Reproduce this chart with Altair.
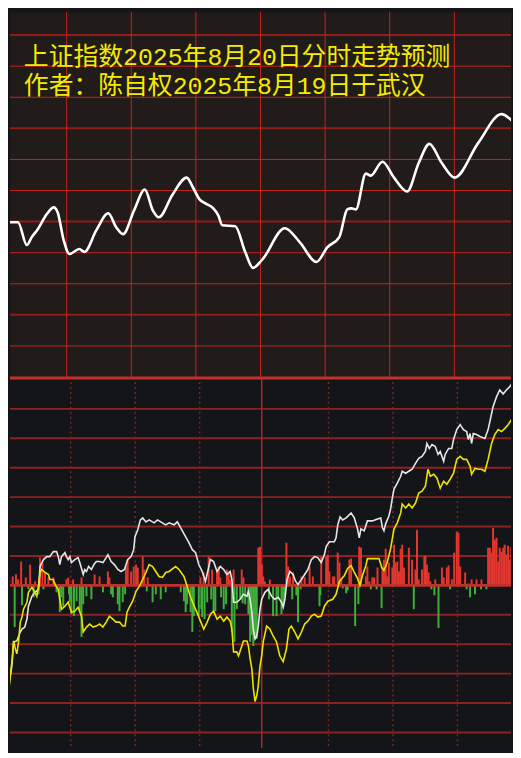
import altair as alt
import pandas as pd

TITLE1 = "上证指数2025年8月20日分时走势预测"
TITLE2 = "作者：陈自权2025年8月19日于武汉"

# ---- top panel: smoothed forecast curve (minute of session, level) ----
forecast = [
    (0.0, 176), (1.4, 164), (3.2, 156), (7.4, 156), (11.5, 133), (13.8, 141),
    (16.6, 149), (20.7, 164), (24.0, 171), (25.8, 166), (28.6, 138), (31.3, 124),
    (35.9, 129), (38.2, 126), (43.8, 148), (49.3, 165), (53.0, 151), (56.2, 144),
    (61.3, 168), (66.3, 189), (70.0, 168), (72.8, 161), (79.2, 184), (85.7, 201),
    (88.9, 190), (91.7, 179), (94.4, 175), (98.1, 170), (100.4, 163), (102.3, 153),
    (108.3, 152), (112.9, 126), (116.5, 110), (120.7, 118), (131.3, 150), (138.2, 136),
    (146.0, 116), (151.1, 131), (156.6, 141), (160.3, 169), (162.2, 170), (164.3, 169),
    (168.9, 205), (171.2, 203), (176.6, 217), (182.0, 201), (188.1, 187), (193.5, 216),
    (198.4, 235), (204.1, 216), (210.1, 201), (221.1, 236), (231.9, 265), (235.9, 260),
    (240.0, 250),
]

# ---- bottom panel: price (white) and average (yellow), relative to prior close ----
price = [
    (-0.9, -54), (0.3, -97), (0.8, -107), (2.6, -81), (3.4, -57), (4.9, -56), (6.5, -47),
    (7.3, -44), (8.6, -42), (9.6, -34), (10.3, -21), (11.9, -11), (13.3, -7), (15.0, -4),
    (15.7, 19), (17.3, 26), (18.8, 29), (20.2, 29), (21.9, 34), (23.4, 34), (24.2, 29),
    (24.9, 21), (25.7, 29), (26.5, 31), (27.3, 33), (28.0, 29), (28.8, 26), (29.6, 29),
    (30.3, 23), (31.9, 26), (33.4, 28), (34.2, 23), (35.8, 11), (36.5, 16), (37.3, 14),
    (38.3, 19), (39.6, 16), (40.8, 21), (41.9, 24), (43.4, 24), (45.0, 23), (46.5, 28),
    (47.3, 31), (48.8, 24), (50.3, 21), (51.9, 16), (53.4, 14), (55.0, 16), (56.5, 26),
    (58.1, 29), (59.3, 36), (59.9, 49), (61.2, 56), (62.4, 66), (63.5, 68), (65.0, 64),
    (66.5, 66), (68.8, 63), (70.4, 66), (71.9, 64), (74.2, 61), (75.8, 63), (78.1, 61),
    (79.6, 64), (81.2, 58), (83.5, 49), (85.0, 43), (86.6, 36), (88.1, 33), (89.6, 21),
    (91.2, 14), (92.7, 4), (94.2, 18), (95.0, 26), (96.5, 24), (98.1, 14), (99.6, 19),
    (101.2, 16), (102.7, 11), (104.2, 14), (105.0, 6), (105.8, -17), (107.3, -17),
    (108.9, -14), (110.4, -9), (112.0, -11), (112.7, -6), (113.5, -14), (114.3, -27),
    (115.0, -44), (115.8, -54), (116.6, -51), (117.3, -41), (118.1, -24), (118.9, -14),
    (120.4, -7), (121.9, -4), (123.5, -11), (125.0, -14), (126.6, -12), (128.1, -17),
    (128.9, -22), (129.7, -14), (130.7, 6), (132.0, 14), (133.5, 11), (134.7, 4),
    (135.8, 1), (137.4, 6), (138.9, 11), (140.4, 16), (142.0, 26), (143.5, 29),
    (145.0, 28), (146.6, 23), (148.1, 31), (148.9, 39), (150.4, 44), (152.7, 44),
    (153.5, 48), (154.3, 61), (155.4, 69), (156.6, 66), (158.2, 68), (160.5, 73),
    (162.0, 68), (163.5, 57), (164.3, 48), (165.1, 57), (166.6, 55), (168.1, 65),
    (170.4, 65), (172.8, 67), (174.3, 68), (175.1, 58), (175.8, 55), (176.6, 62),
    (178.1, 70), (178.9, 77), (179.7, 88), (180.5, 97), (182.0, 103), (183.6, 110),
    (184.3, 115), (185.9, 113), (187.4, 115), (188.9, 117), (190.5, 123), (192.0, 128),
    (193.5, 130), (195.1, 135), (195.8, 143), (196.9, 138), (198.2, 142), (199.7, 140),
    (201.0, 132), (202.0, 135), (203.6, 125), (204.3, 132), (205.9, 138), (207.4, 138),
    (208.2, 147), (209.7, 157), (211.3, 162), (212.8, 157), (214.3, 155), (215.1, 147),
    (215.9, 153), (216.6, 143), (217.4, 153), (218.9, 152), (220.5, 150), (222.8, 148),
    (224.3, 157), (225.6, 170), (226.6, 180), (228.2, 190), (229.7, 197), (231.3, 193),
    (232.8, 197), (234.3, 200), (235.9, 205), (237.4, 208), (238.7, 209), (240.0, 210),
]

average = [
    (-0.5, -112), (1.1, -109), (1.8, -91), (2.6, -77), (3.4, -56), (4.2, -64), (4.9, -69),
    (5.7, -57), (6.5, -37), (7.3, -32), (8.0, -24), (9.6, -17), (10.3, -7), (11.9, -2),
    (13.4, -7), (14.2, -11), (15.0, -1), (15.7, 13), (16.5, 16), (18.0, 13), (19.6, 11),
    (20.3, 6), (21.9, 6), (22.6, 1), (24.2, -4), (24.9, -14), (25.7, -24), (27.3, -21),
    (28.8, -17), (30.3, -27), (31.9, -26), (33.4, -22), (35.0, -31), (35.8, -47),
    (37.3, -42), (38.8, -39), (40.4, -42), (41.9, -41), (43.4, -39), (45.0, -42),
    (46.5, -37), (48.0, -31), (49.6, -34), (51.1, -37), (52.7, -37), (54.2, -41),
    (55.3, -41), (56.2, -27), (57.3, -22), (58.8, -16), (60.4, -6), (61.9, -1), (63.5, 6),
    (65.0, 13), (66.5, 21), (68.1, 19), (69.6, 14), (71.1, 9), (72.7, 8), (74.2, 13),
    (75.8, 14), (78.1, 18), (78.8, 19), (80.4, 16), (82.7, 9), (84.2, -1), (85.8, -12),
    (88.1, -24), (90.4, -36), (91.9, -44), (93.5, -37), (95.0, -29), (96.5, -26),
    (98.1, -34), (99.6, -31), (101.2, -36), (102.7, -32), (104.2, -36), (105.0, -44),
    (105.8, -67), (107.3, -67), (108.1, -71), (108.9, -66), (110.4, -56), (112.0, -56),
    (112.7, -61), (113.5, -74), (114.3, -84), (115.0, -104), (115.8, -117), (116.6, -111),
    (117.3, -101), (118.1, -81), (118.9, -71), (119.6, -57), (121.2, -41), (122.7, -44),
    (124.2, -51), (125.8, -57), (127.3, -71), (128.9, -77), (130.4, -64), (131.6, -44),
    (132.7, -41), (134.3, -47), (135.8, -54), (137.4, -47), (138.9, -39), (140.4, -36),
    (142.0, -31), (143.5, -29), (145.0, -32), (146.6, -31), (148.1, -21), (149.7, -16),
    (152.0, -14), (153.5, -9), (155.1, 4), (156.6, 8), (157.4, 10), (158.9, 17),
    (160.5, 20), (162.0, 13), (163.5, 7), (164.6, 0), (165.8, 10), (167.4, 20),
    (168.1, 27), (169.7, 27), (172.0, 27), (173.5, 27), (174.8, 18), (175.8, 15),
    (177.3, 23), (178.9, 37), (180.5, 57), (182.0, 63), (183.6, 73), (184.3, 82),
    (185.9, 78), (187.4, 82), (188.9, 78), (190.5, 83), (192.0, 93), (193.5, 95),
    (195.1, 100), (196.3, 117), (197.4, 110), (199.0, 112), (200.5, 108), (202.0, 98),
    (203.6, 105), (205.1, 102), (206.6, 107), (208.2, 113), (209.7, 127), (211.3, 130),
    (212.8, 127), (214.3, 127), (215.9, 120), (216.6, 112), (218.2, 118), (219.7, 117),
    (221.2, 117), (222.8, 115), (224.3, 127), (225.9, 143), (227.4, 152), (229.0, 157),
    (230.5, 155), (232.0, 158), (233.6, 162), (235.1, 167), (236.7, 170), (238.7, 172),
    (240.0, 173),
]

# ---- bottom panel: volume bars, up (red) and down (green) ----
up_bars = [
    (1.4, 6), (3.0, 9), (4.5, 11), (5.4, 6), (6.9, 24), (9.1, 8), (11.1, 21), (13.4, 4),
    (15.7, 28), (16.8, 23), (18.0, 13), (19.6, 8), (21.9, 8), (22.6, 3), (28.0, 6),
    (28.8, 8), (31.1, 6), (35.0, 8), (41.1, 11), (43.4, 9), (47.3, 14), (48.0, 8),
    (55.7, 19), (56.5, 26), (58.1, 14), (59.3, 19), (60.4, 21), (61.2, 18), (63.5, 29),
    (64.2, 16), (65.8, 8), (90.4, 8), (91.9, 13), (94.2, 29), (95.8, 16), (98.1, 14),
    (98.9, 19), (99.6, 8), (102.7, 16), (103.5, 14), (104.2, 6), (105.8, 16), (109.6, 16),
    (110.4, 8), (117.3, 38), (118.1, 39), (118.9, 21), (119.6, 9), (120.4, 4), (122.7, 6),
    (130.4, 43), (131.2, 19), (132.0, 9), (133.5, 13), (137.4, 9), (138.9, 8), (141.2, 19),
    (142.7, 9), (146.6, 29), (148.9, 29), (149.7, 31), (150.4, 14), (152.0, 9), (152.7, 9),
    (154.3, 33), (155.1, 23), (155.9, 7), (159.7, 26), (160.5, 27), (164.3, 39),
    (165.1, 38), (167.4, 9), (168.1, 19), (169.0, 4), (170.4, 8), (171.2, 8), (172.8, 18),
    (175.1, 18), (175.8, 26), (176.6, 37), (177.3, 9), (178.1, 23), (179.7, 18),
    (180.5, 41), (181.2, 23), (182.0, 24), (182.8, 14), (183.6, 37), (184.3, 41),
    (185.1, 18), (187.4, 38), (188.9, 26), (190.5, 16), (191.2, 56), (192.0, 6),
    (193.5, 16), (194.6, 29), (195.1, 30), (195.8, 21), (196.6, 13), (197.4, 4),
    (199.7, 6), (202.8, 18), (203.6, 8), (205.1, 18), (205.9, 20), (207.4, 6), (208.5, 33),
    (209.7, 54), (210.5, 53), (211.3, 19), (213.6, 13), (215.1, 2), (216.6, 6), (218.9, 6),
    (221.2, 6), (224.3, 38), (225.1, 38), (225.9, 33), (226.6, 58), (227.4, 46),
    (228.2, 48), (229.0, 24), (229.7, 38), (230.5, 34), (231.3, 38), (232.0, 41),
    (232.8, 31), (233.6, 40), (234.3, 26), (235.1, 39), (235.9, 38), (236.7, 24),
    (237.4, 38), (238.3, 30),
]

down_bars = [
    (0.0, -42), (3.9, -42), (7.3, -20), (10.3, -4), (12.7, -12), (15.0, -9), (17.3, -4),
    (23.4, -7), (24.9, -27), (25.7, -12), (26.5, -21), (29.2, -9), (29.6, -17), (30.3, -29),
    (31.5, -31), (32.7, -16), (34.2, -27), (35.0, -52), (35.8, -19), (37.3, -11),
    (39.6, -14), (45.0, -7), (48.8, -9), (49.6, -12), (51.9, -19), (52.7, -26), (54.2, -17),
    (55.3, -9), (65.4, -6), (68.1, -17), (69.6, -9), (71.9, -14), (74.2, -7), (81.2, -7),
    (82.7, -16), (83.5, -27), (84.2, -19), (85.8, -27), (86.6, -47), (87.3, -31),
    (89.6, -31), (90.8, -24), (91.2, -32), (92.3, -34), (93.5, -17), (95.4, -14),
    (96.5, -26), (97.3, -26), (100.0, -12), (101.2, -24), (102.3, -19), (105.0, -47),
    (106.2, -57), (107.3, -24), (108.9, -14), (110.0, -18), (111.2, -19), (112.7, -29),
    (113.5, -57), (114.3, -50), (115.0, -61), (115.8, -52), (116.6, -54), (122.3, -14),
    (124.2, -31), (125.8, -31), (126.6, -14), (128.1, -29), (128.9, -20), (129.7, -12),
    (133.1, -14), (135.0, -10), (135.8, -37), (137.0, -4), (145.8, -21), (146.2, -10),
    (156.6, -3), (158.2, -8), (158.9, -5), (162.4, -41), (163.9, -19), (169.7, -4),
    (172.4, -4), (174.7, -23), (189.7, -24), (197.9, -4), (199.3, -10), (201.2, -43),
    (206.6, -4), (214.3, -4), (215.9, -12), (218.2, -9), (221.0, -4), (223.5, -4),
]

# grid positions (scale units)
top_grid_step = 31.33
top_thin = [top_grid_step * k for k in (1, 3, 4, 6, 7, 9, 10)]
top_thick = [top_grid_step * k for k in (2, 5, 8, 11)]
top_vgrid = [30, 60, 90, 120, 150, 180, 210]
bot_grid_step = 29.65
bot_hgrid = [bot_grid_step * k for k in (-5, -4, -3, -2, -1, 1, 2, 3, 4, 5, 6)]
bot_dotted = [30, 60, 90, 150, 180, 210]
bot_mid = [118.9]
bot_top_edge = [209]

W = 505
TOP_H = 368
BOT_H = 374

tx = alt.Scale(domain=[3.685, 236.32], nice=False, zero=False)
ty = alt.Scale(domain=[0, 368], nice=False, zero=False)
bx = alt.Scale(domain=[1.709, 234.96], nice=False, zero=False)
by = alt.Scale(domain=[-164, 210], nice=False, zero=False)


def df(pairs):
    return pd.DataFrame(pairs, columns=["m", "v"])


def col(values, name):
    return pd.DataFrame({name: values})


TITLE_FONT = "Liberation Mono, Noto Sans CJK SC"

# ---------- top ----------
t_thin = alt.Chart(col(top_thin, "v")).mark_rule(color="#c8221f", strokeWidth=1).encode(
    y=alt.Y("v:Q", scale=ty, axis=None))
t_thick = alt.Chart(col(top_thick, "v")).mark_rule(color="#8f1d1b", strokeWidth=2).encode(
    y=alt.Y("v:Q", scale=ty, axis=None))
t_vgrid = alt.Chart(col(top_vgrid, "m")).mark_rule(color="#c8221f", strokeWidth=1).encode(
    x=alt.X("m:Q", scale=tx, axis=None))
t_line = alt.Chart(df(forecast)).mark_line(
    color="#ffffff", strokeWidth=2.6, interpolate="monotone", clip=True).encode(
    x=alt.X("m:Q", scale=tx, axis=None), y=alt.Y("v:Q", scale=ty, axis=None))
t_text1 = alt.Chart(pd.DataFrame({"t": [TITLE1]})).mark_text(
    align="left", baseline="alphabetic", font=TITLE_FONT, fontSize=25,
    color="#f4ec00").encode(text="t:N", x=alt.value(14), y=alt.value(54))
t_text2 = alt.Chart(pd.DataFrame({"t": [TITLE2]})).mark_text(
    align="left", baseline="alphabetic", font=TITLE_FONT, fontSize=25,
    color="#f4ec00").encode(text="t:N", x=alt.value(14), y=alt.value(82.5))

top = alt.layer(t_thin, t_thick, t_vgrid, t_line, t_text1, t_text2).properties(
    width=W, height=TOP_H,
    view=alt.ViewBackground(fill="#211b19", stroke="transparent"))

# ---------- bottom ----------
b_hgrid = alt.Chart(col(bot_hgrid, "v")).mark_rule(color="#8e2222", strokeWidth=2).encode(
    y=alt.Y("v:Q", scale=by, axis=None))
b_edge = alt.Chart(col(bot_top_edge, "v")).mark_rule(color="#c2302a", strokeWidth=3).encode(
    y=alt.Y("v:Q", scale=by, axis=None))
b_dots = alt.Chart(col(bot_dotted, "m")).mark_rule(
    color="#7c2525", strokeWidth=1.5, strokeDash=[2, 3]).encode(
    x=alt.X("m:Q", scale=bx, axis=None))
b_mid = alt.Chart(col(bot_mid, "m")).mark_rule(color="#a82626", strokeWidth=1.5).encode(
    x=alt.X("m:Q", scale=bx, axis=None))
b_up = alt.Chart(df(up_bars)).mark_rule(color="#e2362f", strokeWidth=2, clip=True).encode(
    x=alt.X("m:Q", scale=bx, axis=None), y=alt.Y("v:Q", scale=by, axis=None), y2=alt.datum(0))
b_down = alt.Chart(df(down_bars)).mark_rule(color="#3fae3a", strokeWidth=2, clip=True).encode(
    x=alt.X("m:Q", scale=bx, axis=None), y=alt.Y("v:Q", scale=by, axis=None), y2=alt.datum(0))
b_base = alt.Chart(col([0], "v")).mark_rule(color="#c2302a", strokeWidth=3).encode(
    y=alt.Y("v:Q", scale=by, axis=None))
b_price = alt.Chart(df(price)).mark_line(color="#e6e6e6", strokeWidth=1.6, clip=True).encode(
    x=alt.X("m:Q", scale=bx, axis=None), y=alt.Y("v:Q", scale=by, axis=None))
b_avg = alt.Chart(df(average)).mark_line(color="#ece400", strokeWidth=1.6, clip=True).encode(
    x=alt.X("m:Q", scale=bx, axis=None), y=alt.Y("v:Q", scale=by, axis=None))

bottom = alt.layer(b_hgrid, b_dots, b_mid, b_up, b_down, b_base, b_edge, b_price, b_avg).properties(
    width=W, height=BOT_H,
    view=alt.ViewBackground(fill="#141518", stroke="transparent"))

chart = alt.vconcat(top, bottom, spacing=0, bounds="flush").properties(
    padding=0, background="#141518"
).configure_view(stroke="transparent")

chart.save("out.html", embed_options={"renderer": "svg", "actions": False})
